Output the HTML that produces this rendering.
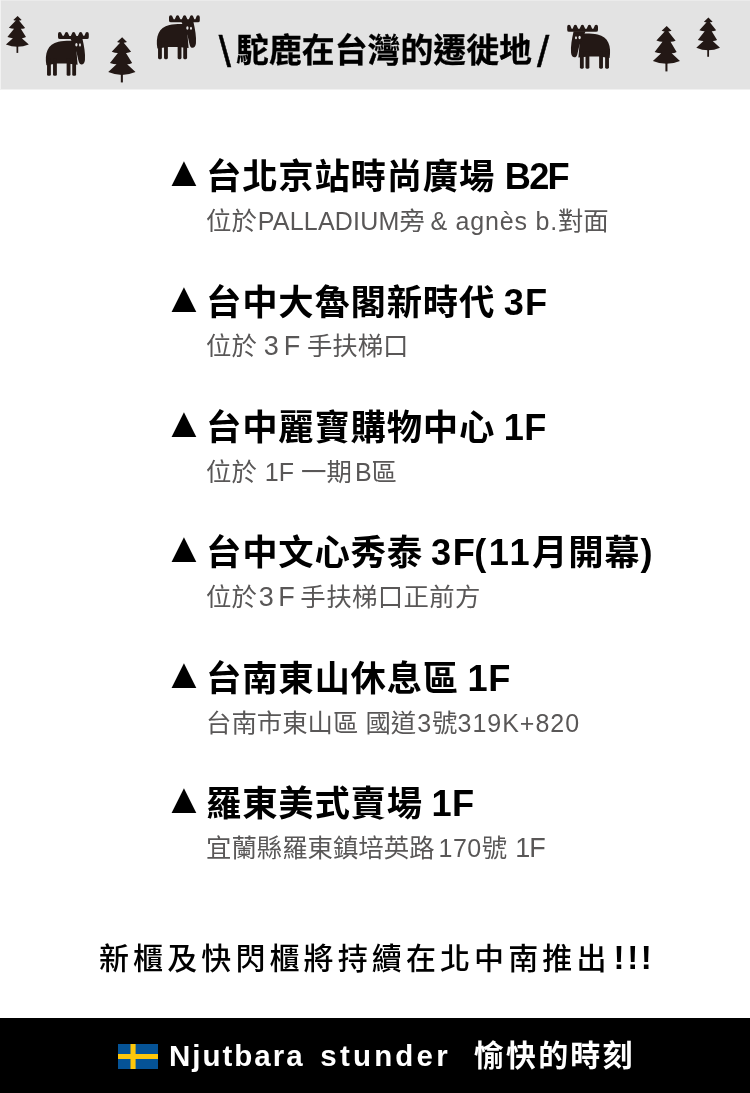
<!DOCTYPE html>
<html lang="zh-Hant">
<head>
<meta charset="utf-8">
<title>駝鹿在台灣的遷徙地</title>
<style>
html,body{margin:0;padding:0;}
.t,.s,.note,.htxt,#ftr .ft,#ftr .fc{will-change:transform;}
body{width:750px;height:1093px;position:relative;overflow:hidden;background:#fff;
  font-family:"Liberation Sans","Noto Sans CJK TC",sans-serif;color:#000;}
#hdr{position:absolute;left:0;top:0;width:750px;height:89px;background:#e3e3e3;border-bottom:1px solid #f1f1f1;box-shadow:inset 1px 0 0 #f2f2f2, inset 0 1px 0 #ebebeb;}
#hdr svg{position:absolute;left:0;top:0;}
.htxt{position:absolute;left:236px;top:26.5px;font-size:32.9px;font-weight:700;-webkit-text-stroke:0.3px #000;line-height:48px;white-space:nowrap;}
.htxt .bs,.htxt .sl{position:absolute;top:0.5px;font-size:44px;line-height:48px;font-weight:400;-webkit-text-stroke:0.5px #000;}
.htxt .bs{left:-17.3px;}
.htxt .sl{left:301px;}
.t{position:absolute;left:205.5px;font-size:35.4px;letter-spacing:0.75px;font-weight:700;line-height:50px;white-space:nowrap;}
.t .tri{position:absolute;left:-43px;top:-4.6px;font-size:42.3px;line-height:50px;letter-spacing:0;}
.t .l{font-size:36.2px;margin-left:-2px;}
.s{position:absolute;left:206px;font-size:25.4px;font-weight:400;line-height:36px;color:#595757;white-space:nowrap;}
.s .l{font-size:25px;}
.s .w{font-size:27px;}
.note{position:absolute;left:99px;top:938px;font-size:30px;font-weight:500;letter-spacing:4.1px;line-height:40px;white-space:nowrap;}
.note .ex{font-size:33px;font-weight:700;letter-spacing:2.6px;margin-left:-9.4px;}
#ftr{position:absolute;left:0;top:1018px;width:750px;height:75px;background:#000;color:#fff;}
#ftr .ft{position:absolute;left:169px;top:17px;font-size:29.5px;font-weight:700;letter-spacing:2.9px;line-height:42px;white-space:nowrap;}
#ftr .fc{position:absolute;left:474px;top:17px;font-size:30px;font-weight:700;letter-spacing:2.1px;line-height:42px;white-space:nowrap;}
#flag{position:absolute;left:118px;top:26px;}
</style>
</head>
<body>
<div id="hdr">
<svg width="750" height="89" viewBox="0 0 750 89">
<defs>
<g id="moose" fill="#231815">
  <path d="M80,565 C55,420 95,300 230,272 C300,256 390,256 445,262 L470,560 L335,545 L210,545 Z"/>
  <rect x="88" y="480" width="48" height="218" rx="16"/>
  <rect x="163" y="480" width="48" height="218" rx="16"/>
  <rect x="333" y="480" width="48" height="218" rx="16"/>
  <rect x="403" y="480" width="48" height="218" rx="16"/>
  <path d="M380,232 L530,232 C552,330 568,420 562,500 C556,565 498,578 484,520 C476,490 468,450 455,400 Z"/>
  <path d="M225,175 Q225,150 247,150 Q268,150 270,172 L283,198 L298,198 L310,172 Q312,150 332,150 Q352,150 354,172 L367,200 L385,200 L398,172 Q400,150 420,150 Q440,150 442,172 L455,200 L473,200 L486,172 Q488,150 508,150 Q528,150 530,172 L542,198 L555,198 L566,172 Q568,150 588,150 Q610,150 610,175 L610,215 Q610,238 588,238 L250,238 Q225,238 225,215 Z"/>
  <ellipse cx="455" cy="310" rx="14" ry="22" fill="#e5e5e5"/>
  <ellipse cx="500" cy="312" rx="12" ry="20" fill="#e5e5e5"/>
</g>
<g id="tree" fill="#231815">
  <path d="M370,98 L436,163 Q412,172 392,172 L492,298 Q455,314 422,312 L506,450 Q470,470 438,468 L552,573 Q367,652 180,573 L294,468 Q262,470 204,450 L312,312 Q280,314 228,296 L342,172 Q322,172 300,163 Z"/>
  <rect x="352" y="600" width="28" height="115"/>
</g>
</defs>
<use href="#moose" transform="translate(40,20) scale(0.08)"/>
<use href="#moose" transform="translate(151,3.3) scale(0.08)"/>
<use href="#moose" transform="translate(616,12.8) scale(-0.08,0.08)"/>
<use href="#tree" transform="translate(-5.18,10.14) scale(0.0616,0.0598)"/>
<use href="#tree" transform="translate(94.99,30.02) scale(0.0734,0.0733)"/>
<use href="#tree" transform="translate(639.79,18.79) scale(0.0728,0.0736)"/>
<use href="#tree" transform="translate(684.83,11.37) scale(0.0637,0.0635)"/>
</svg>
<div class="htxt"><span class="bs">\</span>駝鹿在台灣的遷徙地 <span class="sl">/</span></div>
</div>

<div class="t" style="top:152.1px"><span class="tri">▲</span>台北京站時尚廣場 <span class="l" style="letter-spacing:-1.7px;margin-left:-1px">B2F</span></div>
<div class="s" style="top:203.0px">位於<span class="l" style="letter-spacing:0.2px;margin-left:1px">PALLADIUM</span>旁 <span class="l" style="letter-spacing:0.8px;margin-left:-1.5px">&amp; agnès b.</span>對面</div>

<div class="t" style="top:277.5px"><span class="tri">▲</span>台中大魯閣新時代 <span class="l" style="letter-spacing:1.2px">3F</span></div>
<div class="s" style="top:328.4px">位於 <span class="w" style="letter-spacing:5px;margin-right:-5.5px">3F</span> 手扶梯口</div>

<div class="t" style="top:402.9px"><span class="tri">▲</span>台中麗寶購物中心 <span class="l" style="letter-spacing:0.5px">1F</span></div>
<div class="s" style="top:453.8px">位於 <span class="l" style="margin-left:1px">1F</span> 一期<span class="l" style="margin:0 0 0 3px">B</span>區</div>

<div class="t" style="top:528.3px"><span class="tri">▲</span>台中文心秀泰 <span class="l" style="letter-spacing:1.8px;margin-left:-2.5px">3F</span><span class="l" style="letter-spacing:2.5px;margin-left:-2.5px">(11</span>月開幕<span class="l" style="margin-left:0px">)</span></div>
<div class="s" style="top:579.2px">位於<span class="w" style="letter-spacing:4.5px;margin-left:2px;margin-right:-6px">3F</span> <span style="letter-spacing:0.4px">手扶梯口正前方</span></div>

<div class="t" style="top:653.7px"><span class="tri">▲</span>台南東山休息區 <span class="l" style="letter-spacing:0.5px">1F</span></div>
<div class="s" style="top:704.6px">台南市東山區 國道<span class="l" style="margin:0 1px">3</span>號<span class="l" style="letter-spacing:1px">319K+820</span></div>

<div class="t" style="top:779.1px"><span class="tri">▲</span>羅東美式賣場 <span class="l" style="letter-spacing:0.5px">1F</span></div>
<div class="s" style="top:830.0px">宜蘭縣羅東鎮培英路<span class="l" style="margin-left:4px;letter-spacing:0.5px">170</span>號 <span class="w" style="letter-spacing:-1px;margin-left:1px">1F</span></div>

<div class="note">新櫃及快閃櫃將持續在北中南推出 <span class="ex">!!!</span></div>

<div id="ftr">
<svg id="flag" width="40" height="25" viewBox="0 0 40 25">
<rect width="40" height="25" fill="#055396"/>
<rect x="12.5" y="0" width="5.1" height="25" fill="#fdc609"/>
<rect x="0" y="10" width="40" height="5" fill="#fdc609"/>
</svg>
<div class="ft"><span style="letter-spacing:2px">Njutbara</span> <span style="margin-left:4.5px;letter-spacing:3.2px">stunder</span></div>
<div class="fc">愉快的時刻</div>
</div>
</body>
</html>
